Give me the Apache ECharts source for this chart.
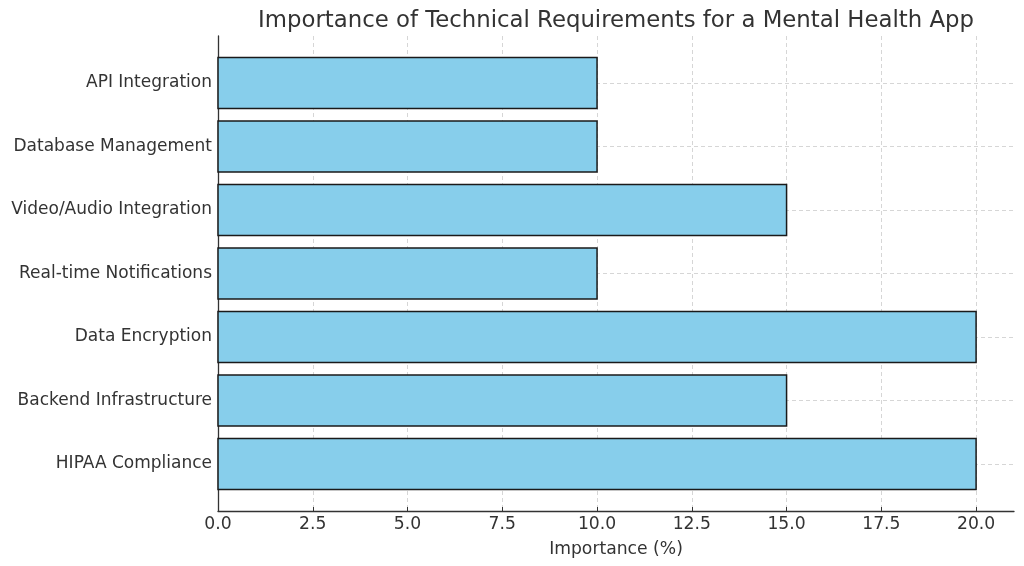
<!DOCTYPE html>
<html>
<head>
<meta charset="utf-8">
<script src="https://cdn.jsdelivr.net/npm/echarts@6/dist/echarts.min.js"></script>
<style>html,body{margin:0;padding:0;background:#fff}#c{width:1024px;height:566px}</style>
</head>
<body>
<div id="c"></div>
<script>
const categories = ['HIPAA Compliance','Backend Infrastructure','Data Encryption','Real-time Notifications','Video/Audio Integration','Database Management','API Integration'];
const values = [20, 15, 20, 10, 15, 10, 10];
const xTicks = [0, 2.5, 5, 7.5, 10, 12.5, 15, 17.5, 20];
const yTicks = [0, 1, 2, 3, 4, 5, 6];
const titleText = 'Importance of Technical Requirements for a Mental Health App';
const xName = 'Importance (%)';

const font = 'DejaVu Sans';
const chart = echarts.init(document.getElementById('c'), null, {renderer: 'canvas'});
chart.setOption({
  backgroundColor: '#fff',
  animation: false,
  title: {
    text: titleText, left: 611, top: 5, textAlign: 'center',
    textStyle: {fontFamily: font, fontSize: 22.8, fontWeight: 'normal', color: '#333'}
  },
  grid: {left: 218, right: 10, top: 36, bottom: 55, containLabel: false},
  xAxis: {
    type: 'value', min: 0, max: 21,
    name: xName, nameLocation: 'middle', nameGap: 30,
    nameTextStyle: {fontFamily: font, fontSize: 17.2, color: '#333'},
    axisLine: {show: true, onZero: false, lineStyle: {color: '#333', width: 1.3}},
    axisTick: {show: true, inside: true, length: 4, customValues: xTicks, lineStyle: {color: '#333'}},
    axisLabel: {customValues: xTicks, formatter: v => Number(v).toFixed(1), fontFamily: font, fontSize: 17.2, color: '#333', margin: 5},
    splitLine: {show: true, lineStyle: {color: '#ccc', type: [4, 3], width: 0.8}}
  },
  yAxis: {
    type: 'value', min: -0.74, max: 6.74,
    axisLine: {show: true, onZero: false, lineStyle: {color: '#333', width: 1.3}},
    axisTick: {show: true, inside: true, length: 4, customValues: yTicks, lineStyle: {color: '#333'}},
    axisLabel: {customValues: yTicks, formatter: v => categories[Math.round(v)], fontFamily: font, fontSize: 17, color: '#333', margin: 6, padding: [3, 0, 0, 0]},
    splitLine: {show: true, lineStyle: {color: '#ccc', type: [4, 3], width: 0.8}}
  },
  series: [{
    type: 'custom',
    encode: {x: 0, y: 1},
    data: values.map((v, i) => [v, i]),
    renderItem: function (params, api) {
      const v = api.value(0), i = api.value(1);
      const s = api.coord([0, i]);
      const e = api.coord([v, i]);
      const h = api.size([0, 0.8])[1];
      return {
        type: 'rect',
        shape: {x: s[0], y: s[1] - h / 2, width: e[0] - s[0], height: h},
        style: {fill: '#87CEEB', stroke: '#1a1a1a', lineWidth: 1.5}
      };
    }
  }]
});
</script>
</body>
</html>
